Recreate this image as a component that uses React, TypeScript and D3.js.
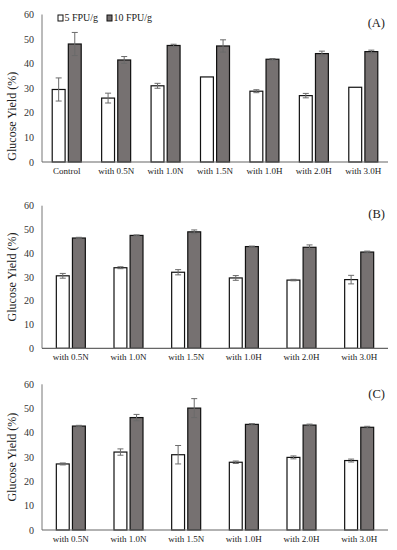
import * as d3 from "d3";

// categories
const catsA = ["Control", "with 0.5N", "with 1.0N", "with 1.5N", "with 1.0H", "with 2.0H", "with 3.0H"];
const catsBC = ["with 0.5N", "with 1.0N", "with 1.5N", "with 1.0H", "with 2.0H", "with 3.0H"];
const seriesNames = ["5 FPU/g", "10 FPU/g"];
const yTicks = [0, 10, 20, 30, 40, 50, 60];

// panel A
const a5 = [29.5, 26.0, 31.0, 34.6, 28.8, 27.0, 30.4];
const a5err = [4.7, 2.0, 1.0, 0, 0.6, 0.9, 0];
const a10 = [48.0, 41.5, 47.4, 47.2, 41.8, 44.1, 44.9];
const a10err = [4.7, 1.4, 0.5, 2.5, 0.3, 1.0, 0.6];

// panel B
const b5 = [30.5, 33.9, 32.0, 29.6, 28.7, 28.9];
const b5err = [1.0, 0.4, 1.1, 1.0, 0.3, 1.8];
const b10 = [46.4, 47.5, 49.0, 42.8, 42.5, 40.5];
const b10err = [0.3, 0.2, 0.8, 0.2, 1.0, 0.4];

// panel C
const c5 = [27.2, 32.1, 31.0, 27.9, 29.9, 28.6];
const c5err = [0.4, 1.3, 3.8, 0.5, 0.6, 0.6];
const c10 = [42.8, 46.3, 50.2, 43.5, 43.2, 42.3];
const c10err = [0.3, 1.3, 3.9, 0.3, 0.4, 0.4];

const FONT = "Liberation Serif, Times New Roman, serif";
const DARK = "#767171";

function Panel({ cats, v5, e5, v10, e10, top, bottom, tag, tagY, labelShift, legend }) {
  const left = 42;
  const right = 388;
  const y = d3.scaleLinear().domain([0, 60]).range([bottom, top]);
  const x = d3.scaleBand().domain(cats).range([left, right]).padding(0);
  const sub = d3.scaleBand().domain(seriesNames).range([-14.5, 14.5]).paddingInner(0.2);
  const rows = cats.map((c, i) => ({ c, vals: [v5[i], v10[i]], errs: [e5[i], e10[i]] }));
  const labelMid = (top + bottom) / 2 + labelShift;

  return (
    <g>
      {yTicks.map((t) => (
        <text key={t} x={34} y={y(t)} dy="0.35em" textAnchor="end" fontSize={10} fill="#333">
          {t}
        </text>
      ))}
      <text
        transform={`translate(16,${labelMid}) rotate(-90)`}
        textAnchor="middle"
        fontSize={12}
        fill="#222"
      >
        Glucose Yield (%)
      </text>
      {rows.map((r) =>
        r.vals.map((v, k) => {
          const cx = x(r.c) + x.bandwidth() / 2 + sub(seriesNames[k]);
          const w = sub.bandwidth();
          const e = r.errs[k];
          return (
            <g key={r.c + k}>
              <rect
                x={cx}
                y={y(v)}
                width={w}
                height={y(0) - y(v)}
                fill={k === 0 ? "#fff" : DARK}
                stroke="#111"
                strokeWidth={1.2}
              />
              {e > 0 && (
                <g stroke="#6b6b6b" strokeWidth={1}>
                  <line x1={cx + w / 2} x2={cx + w / 2} y1={y(v - e)} y2={y(v + e)} />
                  <line x1={cx + w / 2 - 3} x2={cx + w / 2 + 3} y1={y(v + e)} y2={y(v + e)} />
                  <line x1={cx + w / 2 - 3} x2={cx + w / 2 + 3} y1={y(v - e)} y2={y(v - e)} />
                </g>
              )}
            </g>
          );
        })
      )}
      <line x1={left} x2={left} y1={top} y2={bottom} stroke="#777" strokeWidth={1} />
      <line x1={left} x2={right} y1={bottom} y2={bottom} stroke="#666" strokeWidth={1.2} />
      {cats.map((c) => (
        <text key={c} x={x(c) + x.bandwidth() / 2} y={bottom + 12} textAnchor="middle" fontSize={9} fill="#222">
          {c}
        </text>
      ))}
      <text x={385} y={tagY} textAnchor="end" fontSize={12.5} fill="#222">
        {tag}
      </text>
      {legend && (
        <g fontSize={10} fill="#222">
          <rect x={58} y={15} width={5} height={6} fill="#fff" stroke="#111" strokeWidth={1} />
          <text x={64.5} y={21}>{seriesNames[0]}</text>
          <rect x={107} y={15} width={5} height={6} fill={DARK} stroke="#111" strokeWidth={1} />
          <text x={113.5} y={21}>{seriesNames[1]}</text>
        </g>
      )}
    </g>
  );
}

export default function App() {
  return (
    <svg
      width={397}
      height={550}
      style={{ position: "absolute", left: 0, top: 0, background: "#fff", fontFamily: FONT }}
    >
      <rect width={397} height={550} fill="#fff" />
      <Panel cats={catsA} v5={a5} e5={a5err} v10={a10} e10={a10err} top={14.5} bottom={162} tag="(A)" tagY={27} labelShift={28} legend />
      <Panel cats={catsBC} v5={b5} e5={b5err} v10={b10} e10={b10err} top={205.7} bottom={348.3} tag="(B)" tagY={218} labelShift={0} legend={false} />
      <Panel cats={catsBC} v5={c5} e5={c5err} v10={c10} e10={c10err} top={384.3} bottom={530} tag="(C)" tagY={398} labelShift={0} legend={false} />
    </svg>
  );
}
